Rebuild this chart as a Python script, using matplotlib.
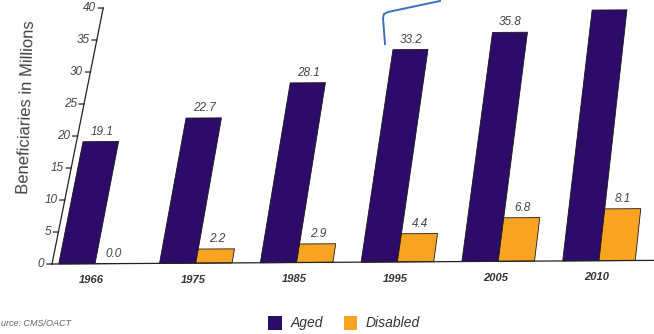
import matplotlib
matplotlib.use("Agg")
import matplotlib.pyplot as plt
import matplotlib.transforms as mtransforms
from matplotlib.lines import Line2D
from matplotlib.patches import Patch
import numpy as np

plt.rcParams["font.family"] = ["Liberation Sans", "DejaVu Sans"]

years = ["1966", "1975", "1985", "1995", "2005", "2010"]
aged = [19.1, 22.7, 28.1, 33.2, 35.8, 39.2]
disabled = [0.0, 2.2, 2.9, 4.4, 6.8, 8.1]
# the 2010 aged label is cut off at the top of the photo
aged_labels = ["19.1", "22.7", "28.1", "33.2", "35.8", ""]
disabled_labels = ["0.0", "2.2", "2.9", "4.4", "6.8", "8.1"]
yticks = [0, 5, 10, 15, 20, 25, 30, 35, 40]

PURPLE = "#2c0b69"
ORANGE = "#f8a322"
TEXT = "#444444"

W, H = 654, 334
base_row = 264      # pixel row of the zero line
px_per_unit = 6.4
x_first = 95        # pixel column of the first group centre
x_step = 100.8
axis_col = 52


class Keystone(mtransforms.Transform):
    """The slide was photographed at an angle: everything leans right,
    a bit less on the right side, and the baseline climbs slightly."""
    input_dims = 2
    output_dims = 2

    def __init__(self, x0, y0, k0=0.2, dk=0.000162, tilt=0.006):
        super().__init__()
        self.x0, self.y0 = x0, y0
        self.k0, self.dk, self.tilt = k0, dk, tilt

    def transform_non_affine(self, xy):
        xy = np.asarray(xy, dtype=float)
        x, y = xy[:, 0], xy[:, 1]
        lean = self.k0 - self.dk * (x - self.x0)
        return np.column_stack([x + lean * (y - self.y0),
                                y + self.tilt * (x - self.x0)])


fig = plt.figure(figsize=(W / 100, H / 100), dpi=100)
ax = fig.add_axes([0, 0, 1, 1])
ax.axis("off")
tr = ax.transData + Keystone(axis_col, H - base_row)

x = np.arange(len(years))
w = 0.36
aged_bars = ax.bar(x - w, aged, w, align="edge", color=PURPLE,
                   edgecolor="#1a1a1a", linewidth=0.6)
dis_bars = ax.bar(x, disabled, w, align="edge", color=ORANGE,
                  edgecolor="#1a1a1a", linewidth=0.6)
for p in list(aged_bars) + list(dis_bars):
    p.set_transform(tr)

xmin, xmax = -x_first / x_step, (W - x_first) / x_step
ax.set_xlim(xmin, xmax)
ax.set_ylim(-(H - base_row) / px_per_unit, base_row / px_per_unit)

# value labels
for i in range(len(years)):
    if aged_labels[i]:
        ax.text(x[i] - w / 2, aged[i] + 0.6, aged_labels[i], transform=tr,
                ha="center", va="bottom", style="italic", size=8.5, color=TEXT)
    ax.text(x[i] + w / 2, disabled[i] + 0.6, disabled_labels[i], transform=tr,
            ha="center", va="bottom", style="italic", size=8.5, color=TEXT)
    ax.text(x[i], -2.6, years[i], transform=tr, ha="center", va="center",
            style="italic", weight="bold", size=8, color="#333333")

# hand-made axis so it leans with the rest
xa = (axis_col - x_first) / x_step
ax.add_artist(Line2D([xa, xa], [0, yticks[-1]], color="#222222", lw=0.9, transform=tr))
ax.add_artist(Line2D([xa, xmax], [0, 0], color="#222222", lw=0.9, transform=tr))
for t in yticks:
    ax.add_artist(Line2D([xa - 0.05, xa], [t, t], color="#222222", lw=0.9, transform=tr))
    ax.text(xa - 0.075, t, str(t), transform=tr, ha="right", va="center",
            style="italic", size=8.5, color=TEXT)

fig.text(27 / W, 1 - 107 / H, "Beneficiaries in Millions", rotation=88,
         ha="center", va="center", size=12, color=TEXT)

fig.legend(handles=[Patch(facecolor=PURPLE), Patch(facecolor=ORANGE)],
           labels=["Aged", "Disabled"], loc="center",
           bbox_to_anchor=(344 / W, 1 - 323 / H), ncol=2, frameon=False,
           prop={"style": "italic", "size": 10}, labelcolor="#333333",
           handlelength=1.0, handleheight=1.2, handletextpad=0.6,
           columnspacing=1.5)

# "Source:" is cut at the left edge of the screenshot
fig.text(1 / W, 1 - 323 / H, "urce: CMS/OACT", ha="left", va="center",
         size=6.5, style="italic", color="#666666")

# blue pen mark drawn over the screenshot
pen_cols = np.array([385, 383, 384, 388, 440])
pen_rows = np.array([44, 18, 14, 12, 1])
fig.add_artist(Line2D(pen_cols / W, 1 - pen_rows / H, color="#3b6fc4", lw=1.4))

fig.savefig("out.png", dpi=100)
